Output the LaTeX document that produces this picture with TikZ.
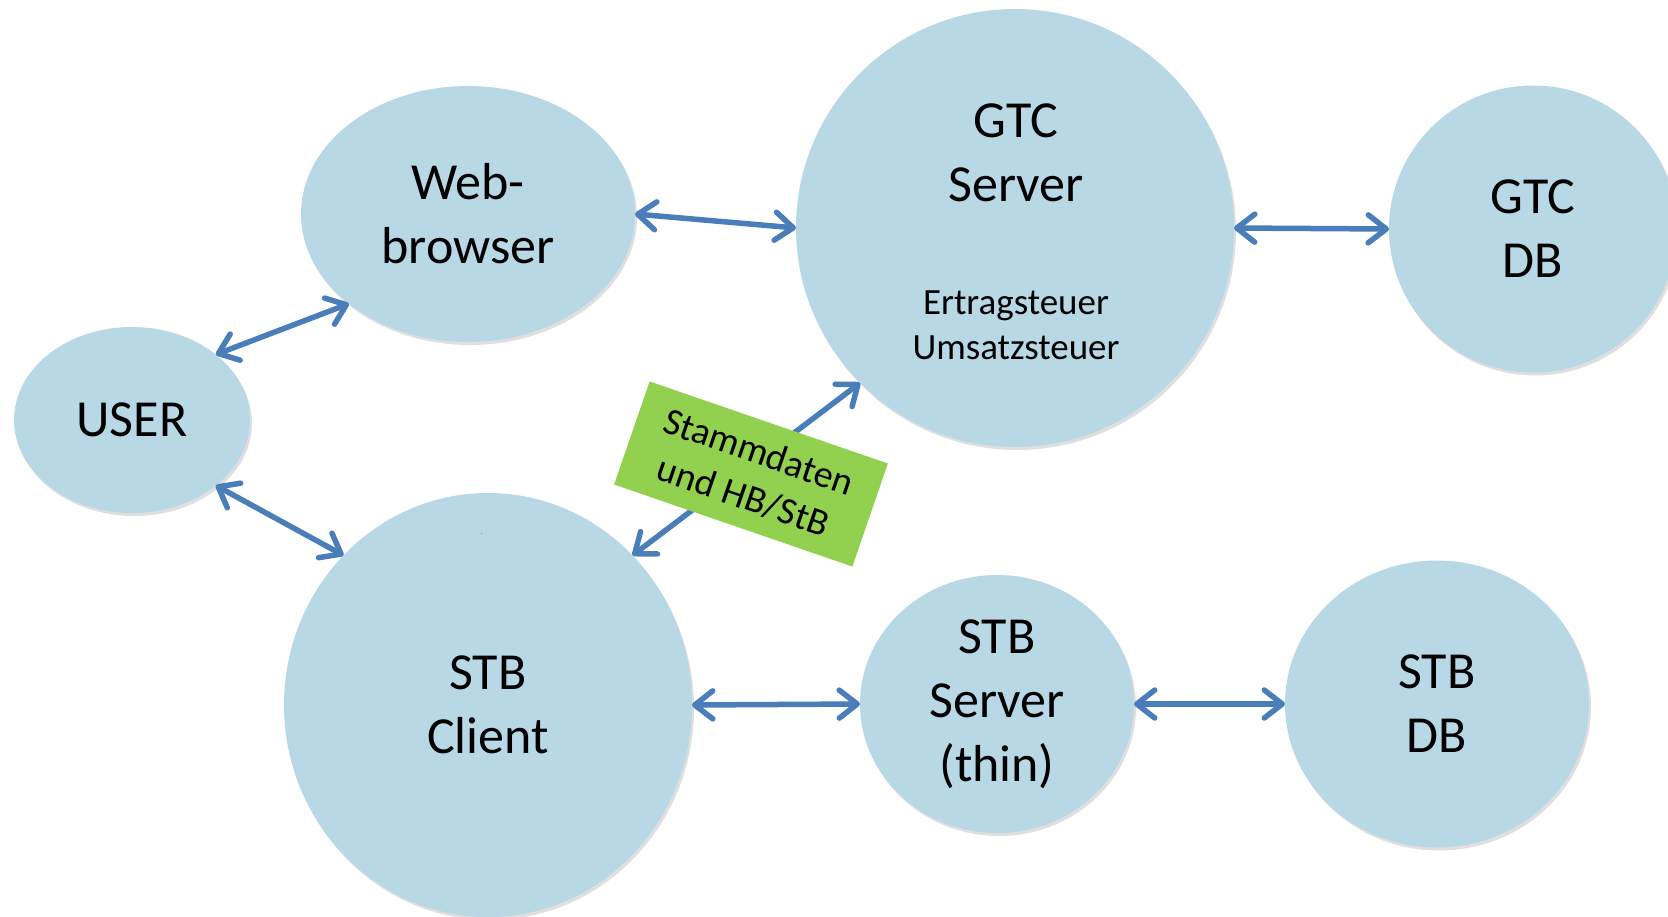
\documentclass[tikz,border=0pt]{standalone}
\usepackage{fontspec}
\setmainfont{Carlito}
\usetikzlibrary{arrows.meta,shapes.geometric,shadows}
\definecolor{bubblefill}{RGB}{185,216,229}
\definecolor{linkcol}{RGB}{74,126,187}
\definecolor{tagfill}{RGB}{146,208,80}
\newcommand\bigtxt{\fontsize{52}{64}\selectfont}
\newcommand\smalltxt{\fontsize{37}{45}\selectfont}
\newcommand\tagtxt{\fontsize{38}{47}\selectfont}
\begin{document}
\begin{tikzpicture}[x=1pt,y=-1pt,
  bubble/.style={ellipse, fill=bubblefill, inner sep=0pt, outer sep=0pt, align=center, font=\bigtxt,
    drop shadow={opacity=0.25, shadow xshift=2pt, shadow yshift=-3pt}},
  link/.style={draw=linkcol, line width=5.5pt, line cap=round,
    {Straight Barb[length=18pt,width=28pt,round]}-{Straight Barb[length=18pt,width=28pt,round]}},
  tagbox/.style={fill=tagfill, rotate=-19, minimum width=252pt, minimum height=109pt, align=center, font=\tagtxt, inner sep=0pt},
  label/.style={align=center, inner sep=0pt}
]
\useasboundingbox (0,0) rectangle (1668,916);
\clip (0,0) rectangle (1668,916);
\fill[white] (0,0) rectangle (1668,916);

\node[bubble, minimum width=236pt, minimum height=186pt] (user) at (132,420) {USER};
\node[bubble, minimum width=334pt, minimum height=256pt] (web) at (468,214) {Web-\\browser};
\node[bubble, minimum width=438pt, minimum height=438pt] (gtc) at (1015,228) {};
\node[bubble, minimum width=288pt, minimum height=287pt] (gtcdb) at (1533,229) {GTC\\DB};
\node[bubble, minimum width=408pt, minimum height=424pt] (client) at (488,705) {STB\\Client};
\node[bubble, minimum width=274pt, minimum height=258pt] (stbsrv) at (997,704) {STB\\Server\\(thin)};
\node[bubble, minimum width=304pt, minimum height=287pt] (stbdb) at (1437,704) {STB\\DB};

\node[label, font=\bigtxt] (gtctitle) at (1016,153) {GTC\\Server};
\node[label, font=\smalltxt] (gtcsub) at (1016,325) {Ertragsteuer\\Umsatzsteuer};
\node[label, font=\fontsize{6}{6}\selectfont] (dot) at (482,534) {.};

\draw[link] (user.38) -- (web.217);
\draw[link] (web.east) -- (gtc.west);
\draw[link] (gtc.east) -- (gtcdb.west);
\draw[link] (user.322) -- (client.134);
\draw[link] (client.46) -- (gtc.225);
\draw[link] (client.east) -- (stbsrv.west);
\draw[link] (stbsrv.east) -- (stbdb.west);

\node[tagbox] (tag) at (751,474) {Stammdaten\\und HB/StB};
\end{tikzpicture}
\end{document}
